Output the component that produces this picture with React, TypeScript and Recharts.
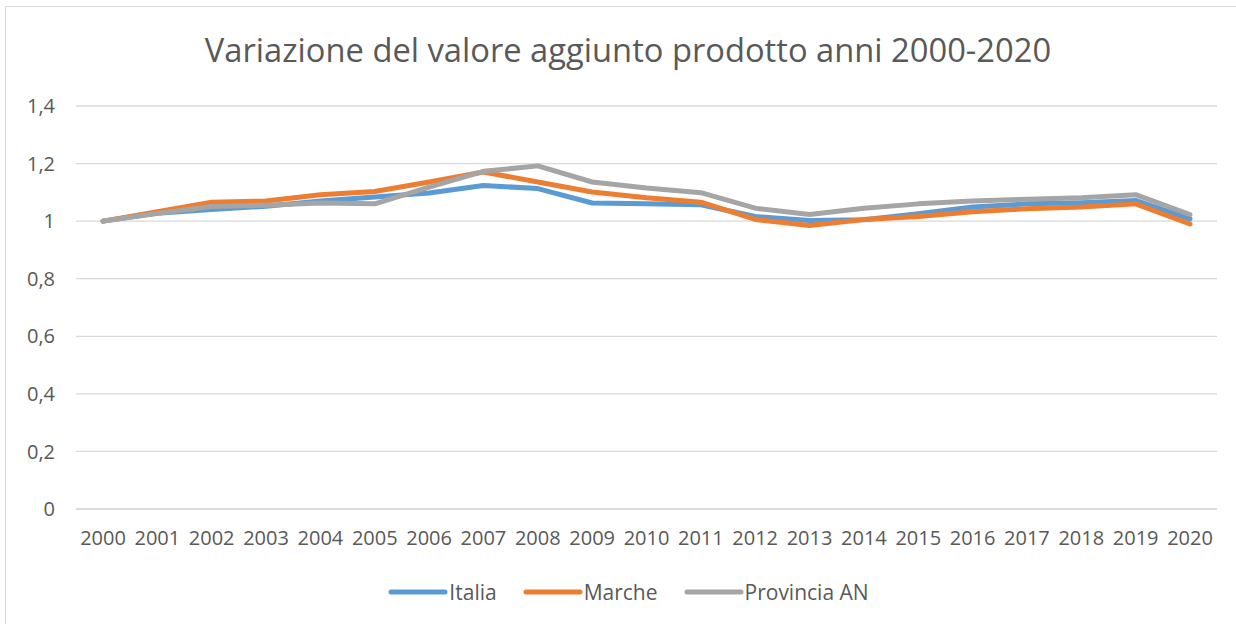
import { LineChart, Line, XAxis, YAxis, CartesianGrid, Legend } from "recharts";

const years = [
  "2000", "2001", "2002", "2003", "2004", "2005", "2006", "2007", "2008", "2009", "2010",
  "2011", "2012", "2013", "2014", "2015", "2016", "2017", "2018", "2019", "2020",
];

const italia = [
  1, 1.027, 1.04, 1.052, 1.07, 1.084, 1.098, 1.124, 1.113, 1.063, 1.06,
  1.057, 1.016, 1.002, 1.005, 1.026, 1.049, 1.06, 1.064, 1.072, 1.008,
];

const marche = [
  1, 1.033, 1.066, 1.07, 1.092, 1.103, 1.136, 1.171, 1.136, 1.101, 1.081,
  1.066, 1.006, 0.985, 1.006, 1.016, 1.033, 1.043, 1.049, 1.06, 0.99,
];

const provincia = [
  1, 1.027, 1.051, 1.055, 1.063, 1.06, 1.118, 1.173, 1.192, 1.136, 1.115,
  1.099, 1.045, 1.023, 1.045, 1.06, 1.07, 1.076, 1.081, 1.092, 1.023,
];

const yTicks = [0, 0.2, 0.4, 0.6, 0.8, 1, 1.2, 1.4];

const data = years.map((year, i) => ({
  year,
  italia: italia[i],
  marche: marche[i],
  provincia: provincia[i],
}));

const FONT = "'Open Sans', sans-serif";
const TEXT = "#595959";
const GRID = "#D9D9D9";

function LegendContent({ payload }: any) {
  return (
    <div style={{ display: "flex", justifyContent: "center", alignItems: "center", height: 30, paddingLeft: 40, fontFamily: FONT, fontSize: 21, color: TEXT }}>
      {(payload || []).map((entry: any) => (
        <div key={entry.value} style={{ display: "flex", alignItems: "center", margin: "0 13px" }}>
          <svg width={60} height={8} style={{ marginRight: 1 }}>
            <line x1={3} y1={4} x2={57} y2={4} stroke={entry.color} strokeWidth={5} strokeLinecap="round" />
          </svg>
          <span>{entry.value}</span>
        </div>
      ))}
    </div>
  );
}

export default function App() {
  return (
    <div style={{ position: "absolute", left: 0, top: 0, width: 1236, height: 624, overflow: "hidden", background: "#fff" }}>
      <div style={{ position: "absolute", left: 5, top: 6, width: 1260, height: 640, border: `1px solid ${GRID}` }} />
      <div
        style={{
          position: "absolute",
          left: 0,
          top: 25,
          width: 1256,
          textAlign: "center",
          fontFamily: FONT,
          fontSize: 32.7,
          color: TEXT,
          lineHeight: "50px",
        }}
      >
        Variazione del valore aggiunto prodotto anni 2000-2020
      </div>
      <LineChart
        width={1236}
        height={624}
        data={data}
        margin={{ top: 106, right: 19, bottom: 17, left: 0 }}
        style={{ position: "absolute", left: 0, top: 0 }}
      >
        <CartesianGrid vertical={false} stroke={GRID} strokeWidth={1.3} />
        <XAxis
          dataKey="year"
          height={68}
          padding={{ left: 27, right: 27 }}
          axisLine={{ stroke: GRID, strokeWidth: 1.3 }}
          tickLine={false}
          tickSize={0}
          tickMargin={22}
          interval={0}
          tick={{ fill: TEXT, fontSize: 20, fontFamily: FONT }}
        />
        <YAxis
          width={76}
          domain={[0, 1.4]}
          ticks={yTicks}
          axisLine={false}
          tickLine={false}
          tickSize={0}
          tickMargin={21}
          tickFormatter={(v: number) => String(Math.round(v * 10) / 10).replace(".", ",")}
          tick={{ fill: TEXT, fontSize: 20, fontFamily: FONT }}
        />
        <Legend verticalAlign="bottom" height={30} content={<LegendContent />} />
        <Line dataKey="italia" name="Italia" stroke="#5B9BD5" strokeWidth={5} dot={false} strokeLinejoin="round" strokeLinecap="round" isAnimationActive={false} />
        <Line dataKey="marche" name="Marche" stroke="#ED7D31" strokeWidth={5} dot={false} strokeLinejoin="round" strokeLinecap="round" isAnimationActive={false} />
        <Line dataKey="provincia" name="Provincia AN" stroke="#A5A5A5" strokeWidth={5} dot={false} strokeLinejoin="round" strokeLinecap="round" isAnimationActive={false} />
      </LineChart>
    </div>
  );
}
